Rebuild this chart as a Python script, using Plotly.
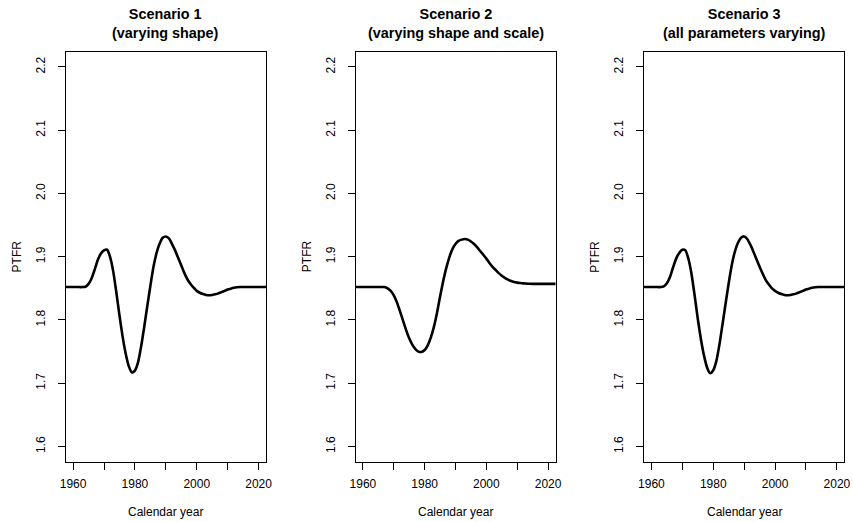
import plotly.graph_objects as go

# ---- data ----
years = list(range(1955, 2026))

scenario1 = [
    1.852, 1.852, 1.852, 1.852, 1.852, 1.852, 1.852, 1.852,    # 1955-1962
    1.852, 1.8525, 1.857, 1.866, 1.880, 1.895, 1.905, 1.910,   # 1963-1970
    1.911, 1.899, 1.876, 1.843, 1.807, 1.774, 1.747, 1.727,    # 1971-1978
    1.717, 1.720, 1.733, 1.758, 1.789, 1.822, 1.854, 1.884,    # 1979-1986
    1.906, 1.921, 1.930, 1.932, 1.929, 1.920, 1.910, 1.898,    # 1987-1994
    1.886, 1.874, 1.864, 1.857, 1.851, 1.846, 1.843, 1.841,    # 1995-2002
    1.8395, 1.839, 1.8395, 1.8405, 1.842, 1.844, 1.846, 1.848, # 2003-2010
    1.8495, 1.8508, 1.8516, 1.852, 1.852, 1.852, 1.852, 1.852, # 2011-2018
    1.852, 1.852, 1.852, 1.852, 1.852, 1.852, 1.852,           # 2019-2025
]

scenario2 = [
    1.852, 1.852, 1.852, 1.852, 1.852, 1.852, 1.852, 1.852,      # 1955-1962
    1.852, 1.852, 1.852, 1.852, 1.852, 1.850, 1.846, 1.839,      # 1963-1970
    1.828, 1.814, 1.799, 1.784, 1.771, 1.761, 1.754, 1.750,      # 1971-1978
    1.7495, 1.7525, 1.760, 1.772, 1.789, 1.811, 1.837, 1.861,    # 1979-1986
    1.882, 1.899, 1.912, 1.920, 1.925, 1.927, 1.928, 1.927,      # 1987-1994
    1.924, 1.920, 1.915, 1.909, 1.903, 1.897, 1.890, 1.884,      # 1995-2002
    1.879, 1.874, 1.870, 1.8665, 1.8637, 1.8615, 1.860, 1.859,   # 2003-2010
    1.8583, 1.8578, 1.8575, 1.8572, 1.857, 1.857, 1.857, 1.857,  # 2011-2018
    1.857, 1.857, 1.857, 1.857, 1.857, 1.857, 1.857,             # 2019-2025
]

scenario3 = [
    1.852, 1.852, 1.852, 1.852, 1.852, 1.852, 1.852, 1.852,    # 1955-1962
    1.852, 1.853, 1.858, 1.868, 1.883, 1.897, 1.906, 1.911,    # 1963-1970
    1.910, 1.896, 1.872, 1.838, 1.802, 1.770, 1.744, 1.725,    # 1971-1978
    1.7158, 1.7205, 1.735, 1.761, 1.793, 1.826, 1.858, 1.887,  # 1979-1986
    1.908, 1.922, 1.930, 1.932, 1.928, 1.919, 1.908, 1.896,    # 1987-1994
    1.884, 1.873, 1.863, 1.856, 1.850, 1.846, 1.843, 1.841,    # 1995-2002
    1.8395, 1.839, 1.8395, 1.8405, 1.842, 1.844, 1.846, 1.848, # 2003-2010
    1.8495, 1.8508, 1.8516, 1.852, 1.852, 1.852, 1.852, 1.852, # 2011-2018
    1.852, 1.852, 1.852, 1.852, 1.852, 1.852, 1.852,           # 2019-2025
]

series = [scenario1, scenario2, scenario3]
titles = ["Scenario 1<br>(varying shape)",
          "Scenario 2<br>(varying shape and scale)",
          "Scenario 3<br>(all parameters varying)"]
x_ticks = [1960, 1970, 1980, 1990, 2000, 2010, 2020]
x_ticklabels = ["1960", "", "1980", "", "2000", "", "2020"]
y_ticks = [1.6, 1.7, 1.8, 1.9, 2.0, 2.1, 2.2]
x_label = "Calendar year"
y_label = "PTFR"

W, H = 853, 522
FONT = "Liberation Sans, Arial, sans-serif"

# plot-area pixel boxes (left, right)
boxes = [(65.7, 266.0), (355.5, 555.5), (644.0, 844.3)]
top_px, bot_px = 51.7, 461.7

fig = go.Figure()
layout = dict(
    width=W, height=H,
    margin=dict(l=0, r=0, t=0, b=0, pad=0, autoexpand=False),
    paper_bgcolor="white", plot_bgcolor="white",
    showlegend=False,
    font=dict(family=FONT, color="black", size=12),
)
annotations = []

for i, (vals, ttl, (lx, rx)) in enumerate(zip(series, titles, boxes)):
    k = "" if i == 0 else str(i + 1)
    fig.add_trace(go.Scatter(
        x=years, y=vals, mode="lines",
        line=dict(color="black", width=2.6, shape="spline", smoothing=0.6),
        xaxis="x" + k, yaxis="y" + k, hoverinfo="skip",
    ))
    common = dict(
        showline=True, mirror=True, linecolor="black", linewidth=1,
        showgrid=False, zeroline=False, automargin=False,
        ticks="outside", ticklen=7, tickwidth=1, tickcolor="black",
        tickfont=dict(family=FONT, size=12, color="black"),
    )
    layout["xaxis" + k] = dict(
        domain=[lx / W, rx / W], anchor="y" + k,
        range=[1957.6, 2022.4], tickvals=x_ticks, ticktext=x_ticklabels,
        ticklabelstandoff=4, **common,
    )
    layout["yaxis" + k] = dict(
        domain=[1 - bot_px / H, 1 - top_px / H], anchor="x" + k,
        range=[1.576, 2.224], tickvals=y_ticks, tickformat=".1f",
        tickangle=-90, ticklabelstandoff=8, **common,
    )
    cx = (lx + rx) / 2 / W
    annotations.append(dict(
        text="<b>" + ttl.replace("<br>", "</b><br><b>") + "</b>",
        x=cx, y=1 - 24 / H, xref="paper", yref="paper",
        xanchor="center", yanchor="middle", showarrow=False,
        font=dict(family=FONT, size=14.4, color="black"),
    ))
    annotations.append(dict(
        text=x_label, x=cx, y=1 - 511.7 / H, xref="paper", yref="paper",
        xanchor="center", yanchor="middle", showarrow=False,
        font=dict(family=FONT, size=12, color="black"),
    ))
    annotations.append(dict(
        text=y_label, x=(lx - 49) / W, y=1 - (top_px + bot_px) / 2 / H,
        xref="paper", yref="paper", textangle=-90,
        xanchor="center", yanchor="middle", showarrow=False,
        font=dict(family=FONT, size=12, color="black"),
    ))

layout["annotations"] = annotations
fig.update_layout(**layout)
fig.write_html("out.html")
